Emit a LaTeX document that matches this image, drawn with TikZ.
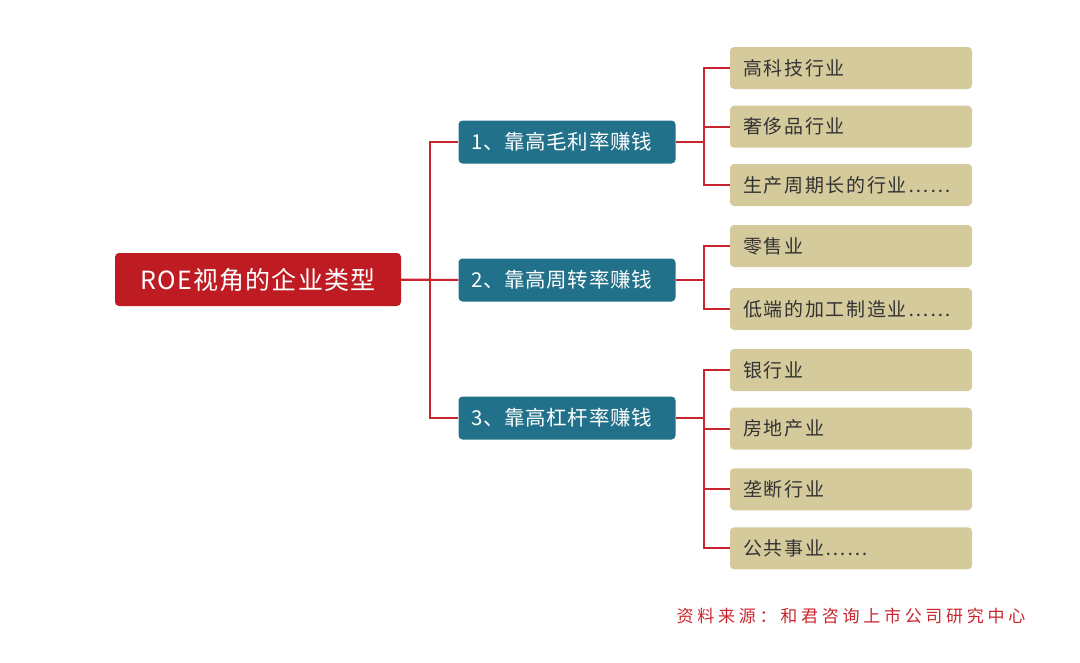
\documentclass[tikz,border=0pt]{standalone}
\usepackage{fontspec}
\setmainfont{Noto Sans CJK SC}
\newfontfamily\rootfont{Noto Sans CJK SC}[LetterSpace=5]
\newfontfamily\midfont{Noto Sans CJK SC}[LetterSpace=3]
\newfontfamily\leaffont{Noto Sans CJK SC}[LetterSpace=9]
\newfontfamily\notefont{Noto Sans CJK SC}[LetterSpace=22]
\definecolor{rootred}{HTML}{BE1B22}
\definecolor{midteal}{HTML}{22718A}
\definecolor{leaftan}{HTML}{D5CA9C}
\definecolor{linered}{HTML}{C9252E}
\definecolor{leaftext}{HTML}{333333}
\tikzset{
    rootbox/.style={fill=rootred,rounded corners=4pt,minimum width=286pt,
        minimum height=53pt,text=white,font=\rootfont\fontsize{25}{29}\selectfont},
    midbox/.style={fill=midteal,rounded corners=4pt,minimum width=217pt,
        minimum height=43pt,text width=191pt,align=left,text=white,
        font=\midfont\fontsize{20.5}{24}\selectfont},
    leafbox/.style={fill=leaftan,rounded corners=4pt,minimum width=242pt,
        minimum height=42pt,text width=216pt,align=left,text=leaftext,
        font=\leaffont\fontsize{19}{22}\selectfont},
    branch/.style={draw=linered,line width=2pt}
}
\begin{document}
\begin{tikzpicture}[x=1pt,y=-1pt]
    \useasboundingbox (0,0) rectangle (1080,662);
    %% Root
    \node[rootbox] (root) at (258,279.5) {ROE视角的企业类型};
    %% Three ways
    \node[midbox] (margin) at (567,142) {1、靠高毛利率赚钱};
    \node[midbox] (turnover) at (567,280) {2、靠高周转率赚钱};
    \node[midbox] (leverage) at (567,418) {3、靠高杠杆率赚钱};
    %% Industries for 1
    \node[leafbox] (tech) at (851,68) {高科技行业};
    \node[leafbox] (luxury) at (851,126.7) {奢侈品行业};
    \node[leafbox] (longcycle) at (851,185) {生产周期长的行业……};
    %% Industries for 2
    \node[leafbox] (retail) at (851,246) {零售业};
    \node[leafbox] (lowend) at (851,309) {低端的加工制造业……};
    %% Industries for 3
    \node[leafbox] (bank) at (851,370) {银行业};
    \node[leafbox] (estate) at (851,428.7) {房地产业};
    \node[leafbox] (monopoly) at (851,489.3) {垄断行业};
    \node[leafbox] (utility) at (851,548.3) {公共事业……};
    %% Connectors
    \draw[branch] (root.east) -- ++(28.5,0) |- (margin.west);
    \draw[branch] (root.east) -- ++(28.5,0) |- (leverage.west);
    \draw[branch] (root.east) -- (turnover.west);
    \draw[branch] (margin.east) -- ++(28,0) |- (tech.west);
    \draw[branch] (margin.east) -- ++(28,0) |- (luxury.west);
    \draw[branch] (margin.east) -- ++(28,0) |- (longcycle.west);
    \draw[branch] (turnover.east) -- ++(28,0) |- (retail.west);
    \draw[branch] (turnover.east) -- ++(28,0) |- (lowend.west);
    \draw[branch] (leverage.east) -- ++(28,0) |- (bank.west);
    \draw[branch] (leverage.east) -- ++(28,0) |- (estate.west);
    \draw[branch] (leverage.east) -- ++(28,0) |- (monopoly.west);
    \draw[branch] (leverage.east) -- ++(28,0) |- (utility.west);
    %% Source
    \node[text=linered,font=\notefont\fontsize{17}{20}\selectfont,anchor=east]
        (source) at (1029,616) {资料来源：和君咨询上市公司研究中心};
\end{tikzpicture}
\end{document}
